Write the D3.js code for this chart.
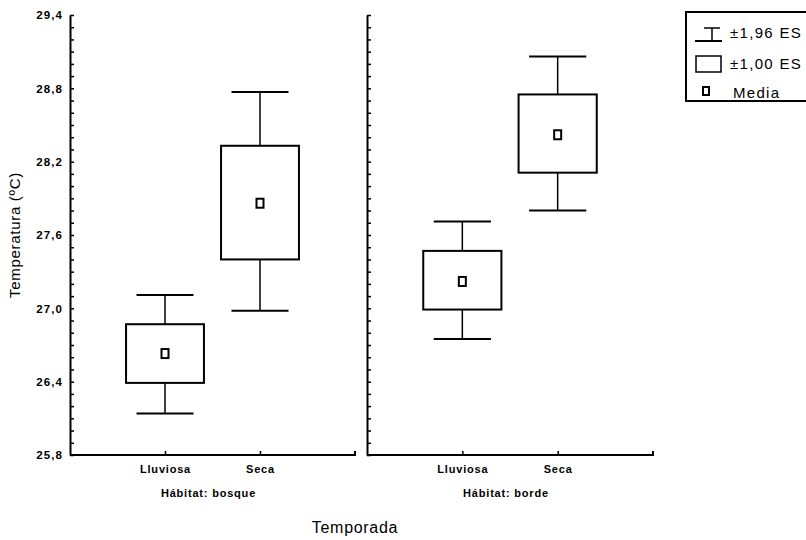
<!DOCTYPE html>
<html>
<head>
<meta charset="utf-8">
<script src="https://cdn.jsdelivr.net/npm/d3@7"></script>
<style>
  body { margin: 0; background: #fff; }
  svg { display: block; font-family: 'Liberation Sans', Arial, sans-serif; }
  .tick-label { font-size: 11.5px; font-weight: bold; letter-spacing: 1.1px; fill: #000; }
  .cat-label { font-size: 11px; font-weight: bold; letter-spacing: 0.8px; fill: #000; }
  .axis-title { font-size: 15px; letter-spacing: 0.7px; fill: #000; }
  .legend-text { font-size: 15px; letter-spacing: 1.3px; fill: #000; }
</style>
</head>
<body>
<div id="wrapper"></div>
<script>
// Data
const habitats = ['Hábitat: bosque', 'Hábitat: borde']
const seasons = ['Lluviosa', 'Seca']
// one value per habitat, per season
const means = [[26.63, 27.86], [27.22, 28.42]]
const boxLow = [[26.39, 27.40], [26.99, 28.11]]    // media - 1,00 ES
const boxHigh = [[26.87, 28.33], [27.47, 28.75]]   // media + 1,00 ES
const whiskLow = [[26.14, 26.98], [26.75, 27.80]]  // media - 1,96 ES
const whiskHigh = [[27.11, 28.77], [27.71, 29.06]] // media + 1,96 ES
const yTickLabels = ['25,8', '26,4', '27,0', '27,6', '28,2', '28,8', '29,4']
const legendLabels = ['±1,96 ES', '±1,00 ES', 'Media']

const width = 806
const height = 540
const plotTop = 15
const plotBottom = 455
const panels = [
  { x0: 70, x1: 355 },
  { x0: 367, x1: 653 },
]

const svg = d3.select('#wrapper')
  .append('svg')
  .attr('width', width)
  .attr('height', height)

const yScale = d3.scaleLinear()
  .domain([25.8, 29.4])
  .range([plotBottom, plotTop])

// minor ticks every 0.1, labels every 0.6
const tickValues = d3.range(0, 37).map(i => +(25.8 + i * 0.1).toFixed(1))
const labelFor = v => {
  const idx = Math.round((v - 25.8) * 10)
  return idx % 6 === 0 ? yTickLabels[idx / 6] : ''
}

panels.forEach((p, pi) => {
  const g = svg.append('g')

  const xScale = d3.scalePoint()
    .domain(seasons)
    .range([p.x0, p.x1])
    .padding(1)
  const step = xScale.step()

  // y axis
  const yAxis = d3.axisLeft(yScale)
    .tickValues(tickValues)
    .tickSizeInner(-4)
    .tickSizeOuter(0)
    .tickPadding(7)
    .tickFormat(pi === 0 ? labelFor : () => '')
  const yg = g.append('g')
    .attr('transform', `translate(${p.x0},0)`)
    .call(yAxis)
  yg.attr('font-family', null).attr('font-size', null)
  yg.select('.domain').attr('stroke', '#000').attr('stroke-width', 2)
  yg.selectAll('.tick line').attr('stroke', '#000').attr('stroke-width', 1.5)
  yg.selectAll('.tick text').attr('class', 'tick-label')

  // x axis
  const xAxis = d3.axisBottom(xScale)
    .tickSizeInner(-4)
    .tickSizeOuter(0)
    .tickPadding(10)
  const xg = g.append('g')
    .attr('transform', `translate(0,${plotBottom})`)
    .call(xAxis)
  xg.attr('font-family', null).attr('font-size', null)
  xg.select('.domain')
    .attr('d', `M${p.x0},0H${p.x1}V-4`)
    .attr('stroke', '#000').attr('stroke-width', 2)
  xg.selectAll('.tick line').attr('stroke', '#000').attr('stroke-width', 1.5)
  xg.selectAll('.tick text')
    .attr('class', 'cat-label')
    .attr('dy', '0.71em')

  // panel caption
  g.append('text')
    .attr('class', 'cat-label')
    .attr('x', (xScale(seasons[0]) + xScale(seasons[1])) / 2 - 4)
    .attr('y', 497)
    .attr('text-anchor', 'middle')
    .text(habitats[pi])

  // boxes
  const boxW = step * 0.82
  const capW = step * 0.6
  seasons.forEach((s, si) => {
    const cx = xScale(s)
    const m = g.append('g').attr('stroke', '#000').attr('fill', 'none')
    // whiskers
    m.append('line')
      .attr('x1', cx).attr('x2', cx)
      .attr('y1', yScale(whiskHigh[pi][si])).attr('y2', yScale(boxHigh[pi][si]))
      .attr('stroke-width', 1.5)
    m.append('line')
      .attr('x1', cx).attr('x2', cx)
      .attr('y1', yScale(boxLow[pi][si])).attr('y2', yScale(whiskLow[pi][si]))
      .attr('stroke-width', 1.5)
    ;[whiskHigh[pi][si], whiskLow[pi][si]].forEach(v => {
      m.append('line')
        .attr('x1', cx - capW / 2).attr('x2', cx + capW / 2)
        .attr('y1', yScale(v)).attr('y2', yScale(v))
        .attr('stroke-width', 2)
    })
    // box
    m.append('rect')
      .attr('x', cx - boxW / 2)
      .attr('width', boxW)
      .attr('y', yScale(boxHigh[pi][si]))
      .attr('height', yScale(boxLow[pi][si]) - yScale(boxHigh[pi][si]))
      .attr('stroke-width', 2)
    // mean marker
    m.append('rect')
      .attr('x', cx - 3.5)
      .attr('y', yScale(means[pi][si]) - 4.5)
      .attr('width', 7)
      .attr('height', 9)
      .attr('stroke-width', 2)
  })
})

// axis titles
svg.append('text')
  .attr('class', 'axis-title')
  .attr('transform', `translate(20,${(plotTop + plotBottom) / 2}) rotate(-90)`)
  .attr('text-anchor', 'middle')
  .text('Temperatura (ºC)')

svg.append('text')
  .attr('class', 'axis-title')
  .attr('x', 355)
  .attr('y', 533)
  .attr('text-anchor', 'middle')
  .style('font-size', '16px')
  .text('Temporada')

// legend
const legend = svg.append('g').attr('stroke', '#000').attr('fill', 'none')
legend.append('rect')
  .attr('x', 686).attr('y', 12)
  .attr('width', 140).attr('height', 89)
  .attr('stroke-width', 2)
// ±1,96 ES icon
legend.append('line').attr('x1', 704).attr('x2', 720).attr('y1', 28).attr('y2', 28).attr('stroke-width', 1.5)
legend.append('line').attr('x1', 712).attr('x2', 712).attr('y1', 28).attr('y2', 41).attr('stroke-width', 1.5)
legend.append('line').attr('x1', 695).attr('x2', 722).attr('y1', 41).attr('y2', 41).attr('stroke-width', 2)
// ±1,00 ES icon
legend.append('rect').attr('x', 696).attr('y', 56).attr('width', 25).attr('height', 16).attr('stroke-width', 1.5)
// Media icon
legend.append('rect').attr('x', 703).attr('y', 87).attr('width', 6).attr('height', 8).attr('stroke-width', 2)

const legendY = [38, 69, 98]
legendLabels.forEach((t, i) => {
  svg.append('text')
    .attr('class', 'legend-text')
    .attr('x', i === 2 ? 733 : 730)
    .attr('y', legendY[i])
    .text(t)
})
</script>
</body>
</html>
